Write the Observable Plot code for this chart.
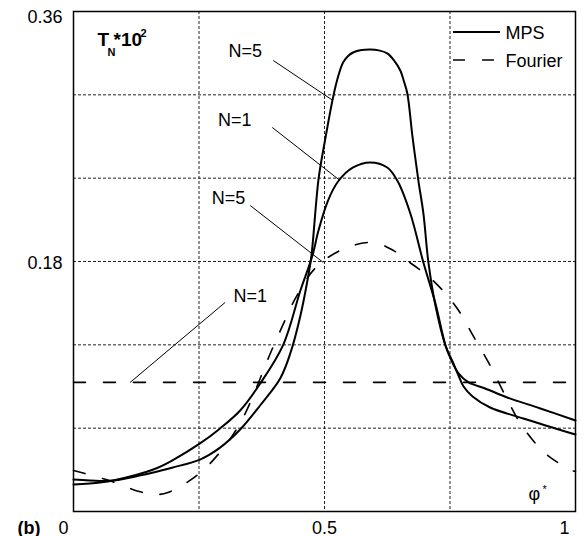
<!DOCTYPE html>
<html>
<head>
<meta charset="utf-8">
<script src="https://cdn.jsdelivr.net/npm/d3@7"></script>
<script src="https://cdn.jsdelivr.net/npm/@observablehq/plot@0.6"></script>
<style>
  html, body { margin: 0; padding: 0; background: #fff; }
  #chart svg { display: block; }
</style>
</head>
<body>
<div id="chart"></div>
<script>
// ---- data ----
const mpsN1_phi = [0.000,0.053,0.079,0.159,0.198,0.252,0.292,0.332,0.372,0.418,0.452,0.476,0.488,0.507,0.527,0.557,0.591,0.625,0.645,0.671,0.697,0.721,0.741,0.751,0.767,0.787,0.820,0.864,0.930,1.000];
const mpsN1_T   = [0.0194,0.0209,0.0223,0.0302,0.0370,0.0490,0.0598,0.0727,0.0922,0.1202,0.1591,0.1843,0.2023,0.2239,0.2376,0.2477,0.2513,0.2477,0.2383,0.2146,0.1793,0.1498,0.1195,0.1102,0.0994,0.0929,0.0886,0.0821,0.0742,0.0655];

const mpsN5_phi = [0.000,0.053,0.079,0.159,0.198,0.252,0.292,0.332,0.372,0.412,0.432,0.452,0.466,0.474,0.488,0.501,0.517,0.527,0.537,0.547,0.557,0.574,0.591,0.608,0.625,0.638,0.651,0.658,0.665,0.675,0.687,0.697,0.707,0.721,0.741,0.755,0.767,0.777,0.795,0.830,0.896,1.000];
const mpsN5_T   = [0.0230,0.0220,0.0223,0.0281,0.0317,0.0374,0.0460,0.0590,0.0765,0.0960,0.1140,0.1410,0.1663,0.1843,0.2390,0.2671,0.2981,0.3130,0.3233,0.3280,0.3305,0.3322,0.3326,0.3320,0.3298,0.3250,0.3175,0.3100,0.3010,0.2707,0.2383,0.2146,0.1793,0.1483,0.1195,0.1080,0.0979,0.0900,0.0828,0.0749,0.0670,0.0554];

const fouN5_phi = [0.000,0.071,0.131,0.163,0.188,0.248,0.298,0.338,0.392,0.414,0.442,0.481,0.535,0.595,0.637,0.656,0.715,0.763,0.798,0.831,0.860,0.893,0.940,0.993,1.000];
const fouN5_T   = [0.0295,0.0223,0.0144,0.0122,0.0137,0.0266,0.0454,0.0677,0.1138,0.1318,0.1534,0.1750,0.1886,0.1937,0.1880,0.1829,0.1667,0.1469,0.1253,0.1044,0.0835,0.0619,0.0418,0.0295,0.0290];

const fouN1_phi = [0, 1];
const fouN1_T   = [0.093, 0.093];

// annotation labels and their leader lines (data coordinates)
const annText  = ["N=5", "N=1", "N=5", "N=1"];
const annTextX = [0.342, 0.321, 0.309, 0.352];
const annTextY = [0.3312, 0.2815, 0.2254, 0.1548];
const annX1 = [0.398, 0.396, 0.352, 0.302];
const annY1 = [0.3247, 0.2765, 0.2203, 0.1505];
const annX2 = [0.517, 0.531, 0.4975, 0.1127];
const annY2 = [0.2959, 0.2383, 0.1793, 0.0929];

const xGrid = [0.25, 0.5, 0.75];
const yGrid = [0.06, 0.12, 0.18, 0.24, 0.30];
const xTickLabels = [0, 0.5, 1];
const yTickLabels = [0.18, 0.36];

// ---- build tables ----
const toRows = (xs, ys) => xs.map((x, i) => ({x, y: ys[i]}));
const mpsN1 = toRows(mpsN1_phi, mpsN1_T);
const mpsN5 = toRows(mpsN5_phi, mpsN5_T);
const fouN5 = toRows(fouN5_phi, fouN5_T);
const fouN1 = toRows(fouN1_phi, fouN1_T);
const ann = annText.map((t, i) => ({t, tx: annTextX[i], ty: annTextY[i], x1: annX1[i], y1: annY1[i], x2: annX2[i], y2: annY2[i]}));

const FONT = "Liberation Sans, Arial, Helvetica, sans-serif";

const chart = Plot.plot({
  width: 585,
  height: 536,
  marginLeft: 73,
  marginRight: 10,
  marginTop: 11,
  marginBottom: 25,
  style: {fontFamily: FONT, background: "#fff", overflow: "visible"},
  x: {domain: [0, 1], axis: null},
  y: {domain: [0, 0.36], axis: null},
  marks: [
    Plot.ruleX(xGrid, {x: d => d, stroke: "#222", strokeWidth: 1, strokeDasharray: "3,2"}),
    Plot.ruleY(yGrid, {y: d => d, stroke: "#222", strokeWidth: 1, strokeDasharray: "3,2"}),
    Plot.line(fouN1, {x: "x", y: "y", stroke: "#000", strokeWidth: 1.6, strokeDasharray: "12,18"}),
    Plot.line(fouN5, {x: "x", y: "y", stroke: "#000", strokeWidth: 1.6, strokeDasharray: "12,18", curve: "catmull-rom"}),
    Plot.line(mpsN1, {x: "x", y: "y", stroke: "#000", strokeWidth: 2, curve: "catmull-rom"}),
    Plot.line(mpsN5, {x: "x", y: "y", stroke: "#000", strokeWidth: 2, curve: "catmull-rom"}),
    Plot.link(ann, {x1: "x1", y1: "y1", x2: "x2", y2: "y2", stroke: "#000", strokeWidth: 1}),
    Plot.text(ann, {x: "tx", y: "ty", text: "t", fontSize: 18, fill: "#000", lineAnchor: "middle"}),
    Plot.frame({stroke: "#000", strokeWidth: 1.5}),
    // y tick labels
    Plot.text(yTickLabels.filter(d => d === 0.36), {y: d => d, text: d => d.toFixed(2), frameAnchor: "left", dx: -11, dy: 6, textAnchor: "end", lineAnchor: "middle", fontSize: 18}),
    Plot.text(yTickLabels.filter(d => d === 0.18), {y: d => d, text: d => d.toFixed(2), frameAnchor: "left", dx: -11, dy: 2, textAnchor: "end", lineAnchor: "middle", fontSize: 18}),
    // x tick labels
    Plot.text(xTickLabels.filter(d => d === 0), {x: d => d, text: d => String(d), frameAnchor: "bottom", dx: -10, dy: 22, lineAnchor: "bottom", fontSize: 18}),
    Plot.text(xTickLabels.filter(d => d === 0.5), {x: d => d, text: d => String(d), frameAnchor: "bottom", dx: 0, dy: 22, lineAnchor: "bottom", fontSize: 18}),
    Plot.text(xTickLabels.filter(d => d === 1), {x: d => d, text: d => String(d), frameAnchor: "bottom", dx: -11, dy: 22, lineAnchor: "bottom", fontSize: 18}),
    // panel label
    Plot.text(["(b)"], {text: d => d, frameAnchor: "bottom-left", dx: -56, dy: 22, textAnchor: "start", lineAnchor: "bottom", fontSize: 18, fontWeight: "bold"}),
    // axis title T_N*10^2
    Plot.text(["T"], {text: d => d, frameAnchor: "top-left", dx: 24, dy: 34, textAnchor: "start", lineAnchor: "bottom", fontSize: 19, fontWeight: "bold"}),
    Plot.text(["N"], {text: d => d, frameAnchor: "top-left", dx: 34, dy: 44, textAnchor: "start", lineAnchor: "bottom", fontSize: 11, fontWeight: "bold"}),
    Plot.text(["*10"], {text: d => d, frameAnchor: "top-left", dx: 40, dy: 34, textAnchor: "start", lineAnchor: "bottom", fontSize: 19, fontWeight: "bold"}),
    Plot.text(["2"], {text: d => d, frameAnchor: "top-left", dx: 67, dy: 25, textAnchor: "start", lineAnchor: "bottom", fontSize: 11, fontWeight: "bold"}),
    // x axis name phi*
    Plot.text(["φ"], {text: d => d, frameAnchor: "bottom-right", dx: -47, dy: -12, textAnchor: "start", lineAnchor: "bottom", fontSize: 18}),
    Plot.text(["*"], {text: d => d, frameAnchor: "bottom-right", dx: -33, dy: -19, textAnchor: "start", lineAnchor: "bottom", fontSize: 11}),
    // legend labels
    Plot.text(["MPS"], {text: d => d, frameAnchor: "top-right", dx: -70, dy: 27, textAnchor: "start", lineAnchor: "bottom", fontSize: 18}),
    Plot.text(["Fourier"], {text: d => d, frameAnchor: "top-right", dx: -70, dy: 55, textAnchor: "start", lineAnchor: "bottom", fontSize: 18})
  ]
});

// legend swatches
const svg = d3.select(chart);
svg.append("line").attr("x1", 453).attr("x2", 500).attr("y1", 32).attr("y2", 32)
  .attr("stroke", "#000").attr("stroke-width", 2);
svg.append("line").attr("x1", 453).attr("x2", 497).attr("y1", 60).attr("y2", 60)
  .attr("stroke", "#000").attr("stroke-width", 1.6).attr("stroke-dasharray", "12,17");

document.getElementById("chart").appendChild(chart);
</script>
</body>
</html>
